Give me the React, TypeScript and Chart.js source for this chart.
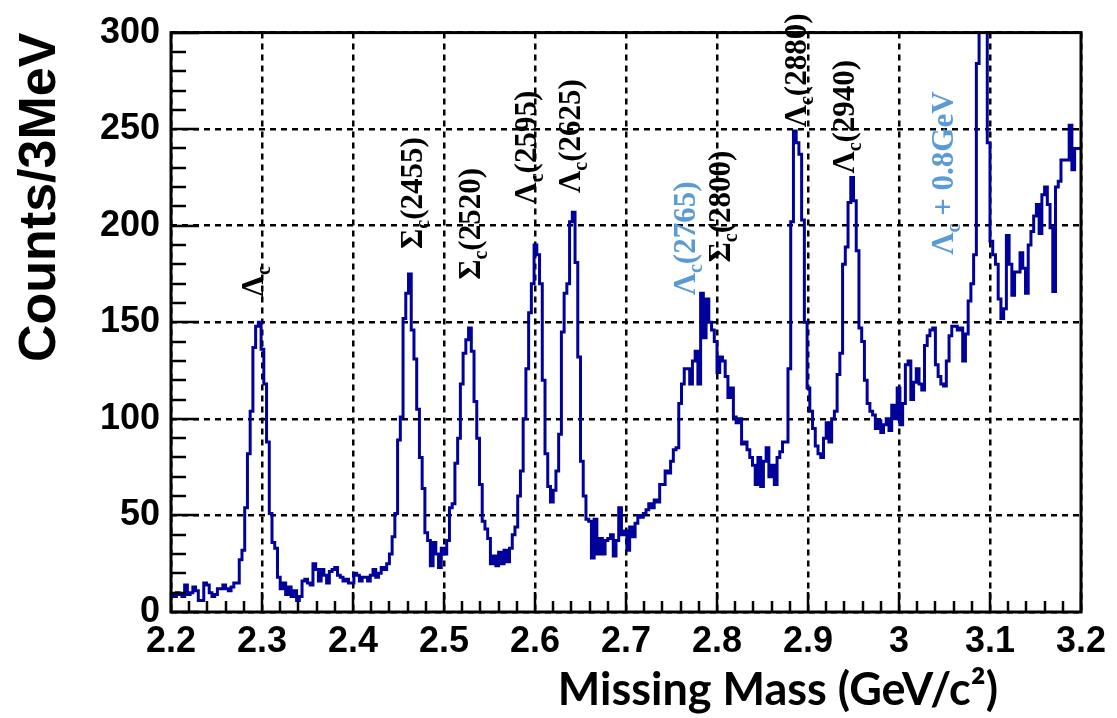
import { useEffect, useRef } from "react";
import { Chart, registerables } from "chart.js";

Chart.register(...registerables);

// Histogram binning (GeV) and counts per 3 MeV bin
const BIN_START = 2.2;
const BIN_WIDTH = 0.003;
const COUNTS = [
  8, 9, 8, 10, 9, 8, 14, 9, 10, 13, 11,
  6, 6, 15, 14, 10, 8, 9, 12, 12, 14,
  12, 11, 13, 15, 15, 27, 32, 54, 82, 104,
  137, 148, 150, 136, 118, 88, 51, 36, 33, 18,
  12, 15, 9, 13, 8, 11, 6, 8, 16, 17,
  15, 14, 25, 22, 16, 22, 19, 15, 21, 22,
  23, 19, 18, 16, 17, 15, 15, 20, 19, 16,
  18, 18, 16, 19, 22, 18, 20, 23, 22, 25,
  30, 39, 51, 89, 101, 152, 165, 175, 146, 131,
  105, 80, 64, 41, 37, 24, 36, 30, 23, 33, 30,
  37, 54, 56, 77, 90, 118, 134, 141, 147, 135,
  109, 90, 66, 47, 43, 38, 25, 29, 24, 31,
  25, 32, 26, 33, 40, 44, 60, 73, 100, 126,
  155, 170, 190, 185, 170, 120, 82, 65, 57, 63,
  73, 92, 145, 165, 170, 202, 207, 181, 132, 78,
  60, 48, 47, 28, 48, 30, 38, 30, 37, 38,
  40, 29, 37, 54, 40, 42, 32, 44, 39, 46,
  50, 49, 51, 53, 56, 54, 58, 57, 66, 66,
  73, 72, 78, 84, 85, 108, 118, 126, 126, 118,
  130, 135, 118, 165, 142, 162, 150, 146, 140, 124,
  132, 130, 122, 111, 116, 101, 98, 100, 87, 88,
  84, 80, 76, 66, 80, 65, 78, 85, 70, 76,
  66, 80, 83, 88, 88, 126, 202, 249, 243, 237,
  203, 150, 116, 104, 95, 86, 82, 80, 90, 98,
  88, 100, 104, 123, 134, 180, 189, 212, 225, 213,
  187, 147, 140, 120, 108, 104, 102, 95, 99, 93,
  97, 100, 94, 107, 100, 116, 97, 108, 128, 130,
  110, 119, 126, 118, 115, 138, 143, 146, 147, 128,
  122, 118, 117, 130, 143, 148, 148, 146, 147, 130,
  144, 161, 170, 185, 284, 330, 360, 350, 243, 192,
  185, 180, 162, 152, 157, 195, 180, 164, 176, 176,
  186, 178, 165, 190, 197, 205, 211, 196, 216, 220,
  211, 199, 166, 220, 223, 234, 234, 234, 252, 229,
  240,
];

const X_TICKS = [2.2, 2.3, 2.4, 2.5, 2.6, 2.7, 2.8, 2.9, 3.0, 3.1, 3.2];
const Y_TICKS = [0, 50, 100, 150, 200, 250, 300];
const X_MINOR_STEP = 0.02;
const Y_MINOR_STEP = 10;
const X_TITLE = "Missing Mass (GeV/c\u00B2)";
const Y_TITLE = "Counts/3MeV";

// Peak annotations: symbol, subscript, remainder, mass (GeV), count at text start
const LABEL_BASE = ["Λ", "Σ", "Σ", "Λ", "Λ", "Λ", "Σ", "Λ", "Λ", "Λ"];
const LABEL_SUB = ["c", "c", "c", "c", "c", "c", "c", "c", "c", "c"];
const LABEL_REST = ["", "(2455)", "(2520)", "(2595)", "(2625)", "(2765)", "(2800)", "(2880)", "(2940)", " + 0.8GeV"];
const LABEL_MASS = [2.292, 2.467, 2.531, 2.592, 2.641, 2.767, 2.805, 2.889, 2.942, 3.05];
const LABEL_COUNT = [163, 188, 172, 211, 217, 164, 181, 251, 227, 185];
const LABEL_BLUE = [false, false, false, false, false, true, false, false, false, true];

const decorPlugin = {
  id: "decor",
  afterDraw(chart: any) {
    const ctx: CanvasRenderingContext2D = chart.ctx;
    const a = chart.chartArea;
    const xs = chart.scales.x;
    const ys = chart.scales.y;
    const left = a.left;
    const bottom = a.bottom;
    ctx.save();
    ctx.setLineDash([]);
    ctx.strokeStyle = "#000";
    ctx.lineWidth = 2.5;
    // inner ticks (ROOT style)
    const nx = Math.round((xs.max - xs.min) / X_MINOR_STEP);
    for (let i = 0; i <= nx; i++) {
      const px = Math.round(xs.getPixelForValue(xs.min + i * X_MINOR_STEP));
      const len = i % 5 === 0 ? 20 : 11;
      ctx.beginPath();
      ctx.moveTo(px, bottom);
      ctx.lineTo(px, bottom - len);
      ctx.stroke();
    }
    const ny = Math.round((ys.max - ys.min) / Y_MINOR_STEP);
    for (let i = 0; i <= ny; i++) {
      const py = Math.round(ys.getPixelForValue(ys.min + i * Y_MINOR_STEP));
      const len = i % 5 === 0 ? 28 : 15;
      ctx.beginPath();
      ctx.moveTo(left, py);
      ctx.lineTo(left + len, py);
      ctx.stroke();
    }
    // frame
    ctx.lineWidth = 3;
    ctx.strokeRect(a.left, a.top, a.right - a.left, a.bottom - a.top);

    // peak labels
    const mainFont = "bold 31px 'Liberation Serif', 'Times New Roman', serif";
    const subFont = "bold 20px 'Liberation Serif', 'Times New Roman', serif";
    for (let i = 0; i < LABEL_BASE.length; i++) {
      const x = xs.getPixelForValue(LABEL_MASS[i]);
      const y = ys.getPixelForValue(LABEL_COUNT[i]);
      ctx.save();
      ctx.translate(x, y);
      ctx.rotate(-Math.PI / 2);
      ctx.fillStyle = LABEL_BLUE[i] ? "#5B9BD5" : "#000";
      ctx.textAlign = "left";
      ctx.textBaseline = "middle";
      ctx.font = mainFont;
      ctx.fillText(LABEL_BASE[i], 0, 0);
      let w = ctx.measureText(LABEL_BASE[i]).width;
      ctx.font = subFont;
      ctx.fillText(LABEL_SUB[i], w, 10);
      w += ctx.measureText(LABEL_SUB[i]).width;
      ctx.font = mainFont;
      ctx.fillText(LABEL_REST[i], w, 0);
      ctx.restore();
    }

    // x-axis title
    ctx.fillStyle = "#000";
    ctx.font = "bold 45px Lato, 'Open Sans', sans-serif";
    ctx.textAlign = "center";
    ctx.textBaseline = "middle";
    ctx.fillText(X_TITLE, a.left + 0.667 * (a.right - a.left), 690);
    ctx.restore();
  },
};

export default function App() {
  const ref = useRef<HTMLCanvasElement>(null);
  useEffect(() => {
    const points = COUNTS.map((c, i) => ({ x: BIN_START + i * BIN_WIDTH, y: c }));
    points.push({ x: BIN_START + COUNTS.length * BIN_WIDTH, y: COUNTS[COUNTS.length - 1] });
    const tickFont = { family: "'Liberation Sans', Arial, sans-serif", weight: "bold" as const, size: 36 };
    const chart = new Chart(ref.current!, {
      type: "line",
      data: {
        datasets: [
          {
            data: points,
            stepped: "after",
            borderColor: "#00009B",
            borderWidth: 3,
            pointRadius: 0,
            fill: false,
          },
        ],
      },
      options: {
        animation: false,
        responsive: false,
        layout: { padding: { top: 29, right: 36, left: 0, bottom: 0 } },
        plugins: { legend: { display: false }, tooltip: { enabled: false } },
        scales: {
          x: {
            type: "linear",
            min: 2.2,
            max: 3.2,
            afterBuildTicks: (s: any) => {
              s.ticks = X_TICKS.map((v) => ({ value: v }));
            },
            afterFit: (s: any) => {
              s.height = 106;
            },
            grid: { color: "#000", lineWidth: 2.5, drawTicks: false },
            border: { display: false, dash: [6, 5] },
            ticks: {
              padding: 8,
              color: "#000",
              font: tickFont,
              maxRotation: 0,
              autoSkip: false,
              callback: (v: any) => String(Math.round(Number(v) * 10) / 10),
            },
          },
          y: {
            type: "linear",
            min: 0,
            max: 300,
            afterBuildTicks: (s: any) => {
              s.ticks = Y_TICKS.map((v) => ({ value: v }));
            },
            afterFit: (s: any) => {
              s.width = 171;
            },
            grid: { color: "#000", lineWidth: 2.5, drawTicks: false },
            border: { display: false, dash: [6, 5] },
            ticks: { padding: 11, color: "#000", font: tickFont },
            title: {
              display: true,
              text: Y_TITLE,
              align: "end",
              color: "#000",
              font: { family: "'Liberation Sans', Arial, sans-serif", weight: "bold", size: 52 },
              padding: { top: 9, bottom: 0 },
            },
          },
        },
      },
      plugins: [decorPlugin],
    });
    return () => chart.destroy();
  }, []);
  return (
    <div style={{ position: "fixed", left: 0, top: 0, width: 1117, height: 718, background: "#fff" }}>
      <canvas ref={ref} width={1117} height={718} style={{ display: "block", width: 1117, height: 718 }} />
    </div>
  );
}
